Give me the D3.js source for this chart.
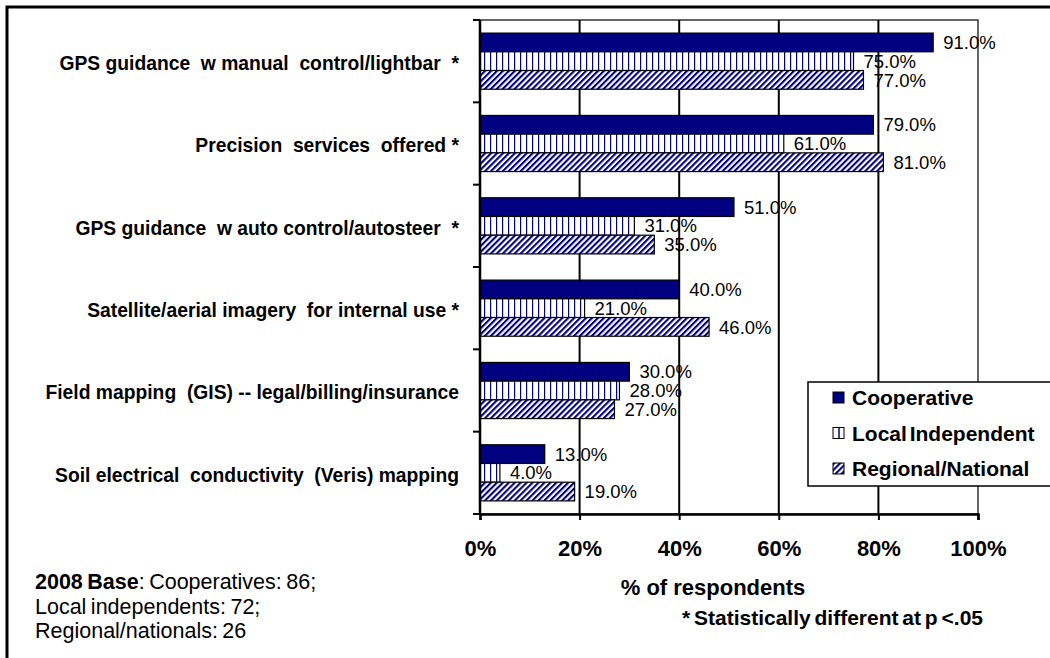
<!DOCTYPE html>
<html>
<head>
<meta charset="utf-8">
<script src="https://cdn.jsdelivr.net/npm/d3@7"></script>
<style>
  body { margin: 0; background: #fff; }
  svg { display: block; font-family: "Liberation Sans", Arial, sans-serif; }
</style>
</head>
<body>
<svg width="1050" height="658"></svg>
<script>
var categories = [
  "GPS guidance  w manual  control/lightbar  *",
  "Precision  services  offered *",
  "GPS guidance  w auto control/autosteer  *",
  "Satellite/aerial imagery  for internal use *",
  "Field mapping  (GIS) -- legal/billing/insurance",
  "Soil electrical  conductivity  (Veris) mapping"
];
var seriesNames = ["Cooperative", "Local Independent", "Regional/National"];
var cooperative = [91, 79, 51, 40, 30, 13];
var localIndependent = [75, 61, 31, 21, 28, 4];
var regionalNational = [77, 81, 35, 46, 27, 19];
var xTicks = [0, 20, 40, 60, 80, 100];
var baseNotes = ["Cooperatives: 86;", "Local independents: 72;", "Regional/nationals: 26"];

var svg = d3.select("svg"),
  width = +svg.attr("width"),
  height = +svg.attr("height");

var navy = "#000080";
var plotLeft = 480, plotRight = 978, plotTop = 20, plotBottom = 514;

var defs = svg.append("defs");
var vert = defs.append("pattern")
  .attr("id", "vert").attr("patternUnits", "userSpaceOnUse")
  .attr("width", 6).attr("height", 6);
vert.append("rect").attr("width", 6).attr("height", 6).attr("fill", "#fff");
vert.append("rect").attr("x", 4).attr("width", 1.2).attr("height", 6).attr("fill", navy);

var diag = defs.append("pattern")
  .attr("id", "diag").attr("patternUnits", "userSpaceOnUse")
  .attr("width", 4.2).attr("height", 4.2)
  .attr("patternTransform", "rotate(45)");
diag.append("rect").attr("width", 4.2).attr("height", 4.2).attr("fill", "#fff");
diag.append("rect").attr("width", 2.1).attr("height", 4.2).attr("fill", navy);

var fills = [navy, "url(#vert)", "url(#diag)"];

svg.append("rect").attr("width", width).attr("height", height).attr("fill", "#fff");

// outer frame, cut at right and bottom
svg.append("rect")
  .attr("x", 7).attr("y", 7).attr("width", 1100).attr("height", 700)
  .attr("fill", "none").attr("stroke", "#000").attr("stroke-width", 3);

var x = d3.scaleLinear().domain([0, 100]).range([plotLeft, plotRight]);
var y0 = d3.scaleBand().domain(categories).range([plotTop, plotBottom]).paddingInner(0);
var y1 = d3.scaleBand().domain(seriesNames).range([0, y0.bandwidth()]).paddingInner(0).paddingOuter(0.7);

var rows = categories.map(function(c, i) {
  return { cat: c, vals: [cooperative[i], localIndependent[i], regionalNational[i]] };
});

// plot area border + gridlines
svg.append("rect")
  .attr("x", plotLeft).attr("y", plotTop)
  .attr("width", plotRight - plotLeft).attr("height", plotBottom - plotTop)
  .attr("fill", "none").attr("stroke", "#333").attr("stroke-width", 1.5);

svg.append("g").selectAll("line")
  .data(xTicks.slice(1, -1))
  .enter().append("line")
  .attr("x1", function(d) { return x(d); }).attr("x2", function(d) { return x(d); })
  .attr("y1", plotTop).attr("y2", plotBottom)
  .attr("stroke", "#000").attr("stroke-width", 2);

// bars
var group = svg.append("g").selectAll("g")
  .data(rows)
  .enter().append("g")
  .attr("transform", function(d) { return "translate(0," + y0(d.cat) + ")"; });

group.selectAll("rect")
  .data(function(d) { return d.vals.map(function(v, j) { return { s: seriesNames[j], v: v, j: j }; }); })
  .enter().append("rect")
  .attr("x", x(0))
  .attr("y", function(d) { return y1(d.s); })
  .attr("width", function(d) { return x(d.v) - x(0); })
  .attr("height", y1.bandwidth())
  .attr("fill", function(d) { return fills[d.j]; })
  .attr("stroke", "#000").attr("stroke-width", 1.2);

group.selectAll("text")
  .data(function(d) { return d.vals.map(function(v, j) { return { s: seriesNames[j], v: v }; }); })
  .enter().append("text")
  .attr("x", function(d) { return x(d.v) + 10; })
  .attr("y", function(d) { return y1(d.s) + y1.bandwidth() / 2; })
  .attr("dy", "0.36em")
  .attr("font-size", 18.5)
  .attr("fill", "#000")
  .text(function(d) { return d3.format(".1f")(d.v) + "%"; });

// left axis
var yAxis = svg.append("g")
  .attr("transform", "translate(" + plotLeft + ",0)");
yAxis.append("line").attr("y1", plotTop).attr("y2", plotBottom).attr("stroke", "#000").attr("stroke-width", 2.5);
yAxis.selectAll(".tk")
  .data(d3.range(categories.length + 1))
  .enter().append("line")
  .attr("x1", -7).attr("x2", 0)
  .attr("y1", function(i) { return plotTop + i * y0.step(); })
  .attr("y2", function(i) { return plotTop + i * y0.step(); })
  .attr("stroke", "#000").attr("stroke-width", 2);

svg.append("g").selectAll("text")
  .data(categories)
  .enter().append("text")
  .attr("x", 459)
  .attr("y", function(d) { return y0(d) + y0.bandwidth() / 2 + 2; })
  .attr("dy", "0.36em")
  .attr("text-anchor", "end")
  .attr("font-size", 19.3)
  .attr("font-weight", "bold")
  .style("white-space", "pre")
  .text(function(d) { return d; });

// bottom axis
var xAxis = svg.append("g")
  .attr("transform", "translate(0," + plotBottom + ")")
  .call(d3.axisBottom(x).tickValues(xTicks).tickSize(6).tickPadding(20)
    .tickFormat(function(d) { return d + "%"; }));
xAxis.select(".domain").attr("stroke", "#000").attr("stroke-width", 2.5);
xAxis.selectAll(".tick line").attr("stroke", "#000").attr("stroke-width", 2);
xAxis.selectAll(".tick text")
  .attr("font-family", "Liberation Sans, Arial, sans-serif")
  .attr("font-size", 22).attr("font-weight", "bold").attr("fill", "#000");

svg.append("text")
  .attr("x", 713).attr("y", 595)
  .attr("text-anchor", "middle")
  .attr("font-size", 22).attr("font-weight", "bold")
  .text("% of respondents");

svg.append("text")
  .attr("x", 983).attr("y", 625)
  .attr("text-anchor", "end")
  .attr("font-size", 21).attr("font-weight", "bold")
  .attr("word-spacing", -2)
  .text("* Statistically different at p <.05");

// base note
var note = svg.append("text")
  .attr("x", 35).attr("y", 589)
  .attr("font-size", 21.5).attr("word-spacing", -1.5);
note.append("tspan").attr("font-weight", "bold").text("2008 Base");
note.append("tspan").text(": " + baseNotes[0]);
note.append("tspan").attr("x", 35).attr("dy", 24.5).text(baseNotes[1]);
note.append("tspan").attr("x", 35).attr("dy", 24.5).text(baseNotes[2]);

// legend
var legend = svg.append("g").attr("transform", "translate(808,382)");
legend.append("rect")
  .attr("width", 260).attr("height", 104)
  .attr("fill", "#fff").attr("stroke", "#000").attr("stroke-width", 1.5);
var item = legend.selectAll(".item")
  .data(seriesNames)
  .enter().append("g")
  .attr("transform", function(d, i) { return "translate(25," + (10 + i * 35.5) + ")"; });
item.append("rect")
  .attr("width", 11).attr("height", 11)
  .attr("fill", function(d, i) { return i == 1 ? "#fff" : fills[i]; })
  .attr("stroke", "#000").attr("stroke-width", 1);
item.filter(function(d, i) { return i == 1; }).append("line")
  .attr("x1", 6).attr("x2", 6).attr("y1", 0).attr("y2", 11)
  .attr("stroke", navy).attr("stroke-width", 1.5);
item.append("text")
  .attr("x", 19).attr("y", 5.5).attr("dy", "0.36em")
  .attr("font-size", 21).attr("font-weight", "bold")
  .attr("word-spacing", -3)
  .text(function(d) { return d; });
</script>
</body>
</html>
